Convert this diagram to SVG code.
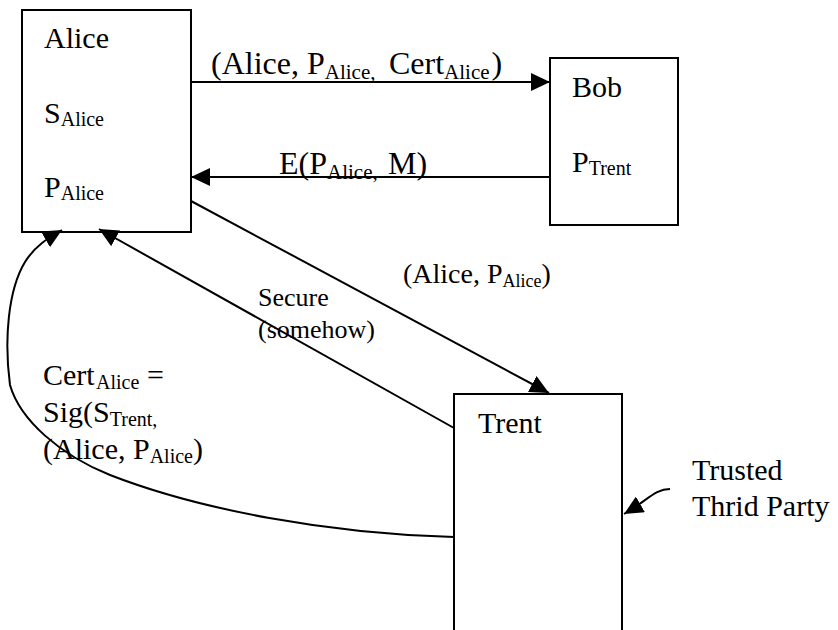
<svg xmlns="http://www.w3.org/2000/svg" width="838" height="630" viewBox="0 0 838 630" font-family="'Liberation Serif', 'DejaVu Serif', serif">
<style>
text{font-family:'Liberation Serif','DejaVu Serif',serif;fill:#000}
.m{font-size:30px}
.b{font-size:32px}
.s{font-size:20px}
.ss{font-size:21px}
.l{font-size:26px}
.l2{font-size:28px}
.lsub{font-size:18px}
.box{fill:#fff;stroke:#000;stroke-width:2}
.c{fill:none;stroke:#000;stroke-width:2}
</style>
<defs>
<marker id="ah" viewBox="0 0 19 18" refX="19" refY="9" markerWidth="19" markerHeight="18" markerUnits="userSpaceOnUse" orient="auto">
<path d="M0,0 L19,9 L0,18 z" fill="#000"/>
</marker>
</defs>
<g id="alice">
<rect class="box" x="22" y="10" width="169" height="222"/>
<text class="m" x="44" y="48">Alice</text>
<text class="m" x="44" y="123">S<tspan class="s" y="126">Alice</tspan></text>
<text class="m" x="44" y="197">P<tspan class="s" y="200">Alice</tspan></text>
</g>
<g id="bob">
<rect class="box" x="550" y="58" width="128" height="167"/>
<text class="m" x="572" y="97">Bob</text>
<text class="m" x="572" y="172">P<tspan class="s" y="175">Trent</tspan></text>
</g>
<g id="trent">
<rect class="box" x="454" y="394" width="168" height="260"/>
<text class="m" x="478" y="433">Trent</text>
</g>
<g id="connectors">
<path class="c" d="M191,82 L550,82" marker-end="url(#ah)"/>
<path class="c" d="M550,177 L191,177" marker-end="url(#ah)"/>
<path class="c" d="M191,201 L549,393" marker-end="url(#ah)"/>
<path class="c" d="M454,428 L99,229" marker-end="url(#ah)"/>
<path class="c" d="M454,537 C330,534 200,510 110,475 C60,455 20,420 10,385 C4,340 8,290 25,262 C35,246 48,238 62,230" marker-end="url(#ah)"/>
<path class="c" d="M670,489 C655,489 648,500 624,514" marker-end="url(#ah)"/>
</g>
<g id="labels">
<text class="b" x="211" y="74">(Alice, P<tspan class="ss" y="79">Alice,</tspan><tspan x="389" y="74">Cert</tspan><tspan class="ss" y="79">Alice</tspan><tspan dx="2" y="74">)</tspan></text>
<text class="b" x="279" y="174">E(P<tspan class="ss" y="179">Alice,</tspan><tspan x="388" y="174">M)</tspan></text>
<text class="l2" x="403" y="283">(Alice, P<tspan class="lsub" y="287">Alice</tspan><tspan y="283">)</tspan></text>
<text class="l" x="258" y="306">Secure</text>
<text class="l" x="258" y="338">(somehow)</text>
<text class="m" x="43" y="385">Cert<tspan class="s" x="96" y="389">Alice</tspan><tspan x="147" y="385">=</tspan></text>
<text class="m" x="43" y="422">Sig(S<tspan class="s" y="426">Trent,</tspan></text>
<text class="m" x="43" y="459">(Alice, P<tspan class="s" y="463">Alice</tspan><tspan y="459">)</tspan></text>
<text class="m" x="692" y="480">Trusted</text>
<text class="m" x="692" y="516">Thrid Party</text>
</g>
</svg>
